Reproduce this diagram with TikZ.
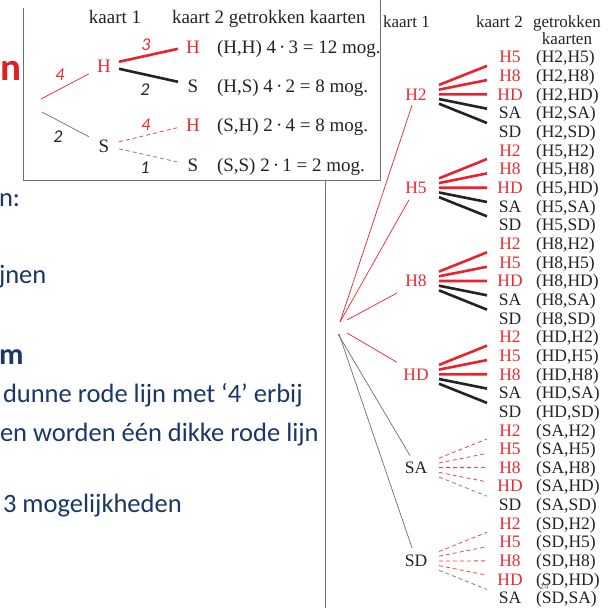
\documentclass[tikz,border=0pt]{standalone}
\usepackage{fontspec}
\setmainfont{Liberation Serif}
\newfontfamily\slidefont{Carlito}
\usetikzlibrary{calc}

\definecolor{cardred}{RGB}{229,45,52}
\definecolor{linered}{RGB}{232,35,45}
\definecolor{ink}{RGB}{35,35,35}
\definecolor{navy}{RGB}{25,55,105}
\definecolor{titlered}{RGB}{224,30,38}
\definecolor{boxgray}{RGB}{100,115,130}
\definecolor{rootgraycol}{RGB}{110,110,110}
\definecolor{dashgraycol}{RGB}{130,130,130}
\definecolor{pagecol}{RGB}{90,120,160}

\begin{document}
\begin{tikzpicture}[x=1pt,y=-1pt,
  every node/.style={inner sep=0pt,outer sep=0pt},
  slide/.style={font=\slidefont\fontsize{26.5}{26.5}\selectfont,text=navy,anchor=base west},
  insettxt/.style={font=\fontsize{19}{19}\selectfont,text=ink,anchor=base},
  insetnum/.style={font=\slidefont\itshape\fontsize{18}{18}\selectfont,text=ink,anchor=base},
  treetxt/.style={font=\fontsize{17.5}{17.5}\selectfont,text=ink,anchor=base},
  headtxt/.style={font=\fontsize{17}{17}\selectfont,text=ink,anchor=base},
  leafr/.style={text=cardred},
  leafb/.style={text=ink},
  boxline/.style={boxgray,line width=1pt},
  rootred/.style={linered,line width=0.7pt},
  rootgray/.style={rootgraycol,line width=0.7pt},
  edgesolidr/.style={linered,line width=2.6pt},
  edgesolidb/.style={ink,line width=2.6pt},
  edgedashr/.style={linered!85,line width=0.8pt,dash pattern=on 4pt off 3pt},
  edgedashb/.style={dashgraycol,line width=0.8pt,dash pattern=on 4pt off 3pt},
]
\useasboundingbox (0,0) rectangle (611,608);
\fill[white] (0,0) rectangle (611,608);

% ---------- slide text on the left ----------
\node[font=\slidefont\bfseries\fontsize{39}{39}\selectfont,text=titlered,anchor=base east] (title) at (21,80) {n};
\node[slide] (t1) at (-1,206) {n:};
\node[slide] (t2) at (-1,283) {jnen};
\node[slide,font=\slidefont\bfseries\fontsize{30}{30}\selectfont] (t3) at (-1,364) {m};
\node[slide] (t4) at (3,402) {dunne rode lijn met ‘4’ erbij};
\node[slide] (t5) at (0,441) {en worden één dikke rode lijn};
\node[slide] (t6) at (3,512) {3 mogelijkheden};

% ---------- frames ----------
\draw[boxline] (23,8) -- (23,180) -- (380,180) -- (380,0);
\draw[boxline] (325,180) -- (325,608);

% ---------- small tree: hearts and spades ----------
\node[insettxt] (ik1) at (115,23) {kaart 1};
\node[insettxt,anchor=base west] (ik2) at (172,23) {kaart 2 getrokken kaarten};
\node[insettxt,text=cardred] (iH) at (104,72) {H};
\node[insettxt] (iS) at (104,152) {S};
\node[insettxt,text=cardred] (iHH) at (193,53) {H};
\node[insettxt] (iHS) at (193,92) {S};
\node[insettxt,text=cardred] (iSH) at (193,131) {H};
\node[insettxt] (iSS) at (193,171) {S};
\node[insettxt,anchor=base west] (rHH) at (217,53) {(H,H) 4\,·\,3 = 12 mog.};
\node[insettxt,anchor=base west] (rHS) at (217,92) {(H,S) 4\,·\,2 = 8 mog.};
\node[insettxt,anchor=base west] (rSH) at (217,131) {(S,H) 2\,·\,4 = 8 mog.};
\node[insettxt,anchor=base west] (rSS) at (217,171) {(S,S) 2\,·\,1 = 2 mog.};

\coordinate (iroot) at (41,105);
\draw[rootred] ($(iroot)+(0,-6)$) -- ($(iH.center)+(-15,8)$);
\draw[rootgray] ($(iroot)+(1,7)$) -- ($(iS.center)+(-15,-9)$);
\draw[edgesolidr] ($(iH.center)+(15,-4)$) -- ($(iHH.center)+(-15,2)$);
\draw[edgesolidb] ($(iH.center)+(15,3)$) -- ($(iHS.center)+(-15,-4)$);
\draw[edgedashr] ($(iS.center)+(15,-4)$) -- ($(iSH.center)+(-16,3)$);
\draw[edgedashb] ($(iS.center)+(15,3)$) -- ($(iSS.center)+(-16,-3)$);

\node[insetnum,text=cardred] (n1) at (60,80) {4};
\node[insetnum] (n2) at (58,142) {2};
\node[insetnum,text=cardred] (n3) at (146,50) {3};
\node[insetnum] (n4) at (145,95) {2};
\node[insetnum,text=cardred] (n5) at (146,130) {4};
\node[insetnum] (n6) at (145,173) {1};

% ---------- large tree: six cards ----------
\node[headtxt] (rk1) at (406.5,27) {kaart 1};
\node[headtxt] (rk2) at (499.5,27) {kaart 2};
\node[headtxt] (rk3) at (567,27) {getrokken};
\node[headtxt] (rk4) at (567,44) {kaarten};

\foreach \g/\first/\fc/\kind/\leaves in {
  0/H2/r/solid/{H5/r,H8/r,HD/r,SA/b,SD/b},
  1/H5/r/solid/{H2/r,H8/r,HD/r,SA/b,SD/b},
  2/H8/r/solid/{H2/r,H5/r,HD/r,SA/b,SD/b},
  3/HD/r/solid/{H2/r,H5/r,H8/r,SA/b,SD/b},
  4/SA/b/dash/{H2/r,H5/r,H8/r,HD/r,SD/b},
  5/SD/b/dash/{H2/r,H5/r,H8/r,HD/r,SA/b}}{
  \pgfmathsetmacro\fb{57+(5*\g+2)*18.66+5.8}
  \node[treetxt,leaf\fc] (f\g) at (416,\fb) {\first};
  \foreach \leaf/\col [count=\k] in \leaves {
    \pgfmathsetmacro\lb{57+(5*\g+\k-1)*18.66+5.8}
    \pgfmathsetmacro\so{(\k-3)*4.7}
    \pgfmathsetmacro\eo{-(\k-3)*4.36}
    \node[treetxt,leaf\col] (l\g-\k) at (510,\lb) {\leaf};
    \node[treetxt,anchor=base west] (p\g-\k) at (536,\lb) {(\first,\leaf)};
    \draw[edge\kind\col] ($(f\g.center)+(23,\so)$) -- ($(l\g-\k.center)+(-23,\eo)$);
  }
}

\coordinate (root) at (340,327);
\draw[rootred] ($(root)+(0,-5)$) -- ($(f0.center)+(-4,11)$);
\draw[rootred] ($(root)+(0,-5)$) -- ($(f1.center)+(-7,12)$);
\draw[rootred] ($(root)+(7,-7)$) -- ($(f2.center)+(-19,12)$);
\draw[rootred] ($(root)+(7,6)$) -- ($(f3.center)+(-19,-12)$);
\draw[rootgray] ($(root)+(-2,7)$) -- ($(f4.center)+(-6,-12)$);
\draw[rootgray] ($(root)+(-1,7)$) -- ($(f5.center)+(-4,-13)$);

% page number, printed over the last column
\node[font=\slidefont\itshape\fontsize{9}{9}\selectfont,text=pagecol,anchor=base] (pg) at (544,589) {14};
\end{tikzpicture}
\end{document}
